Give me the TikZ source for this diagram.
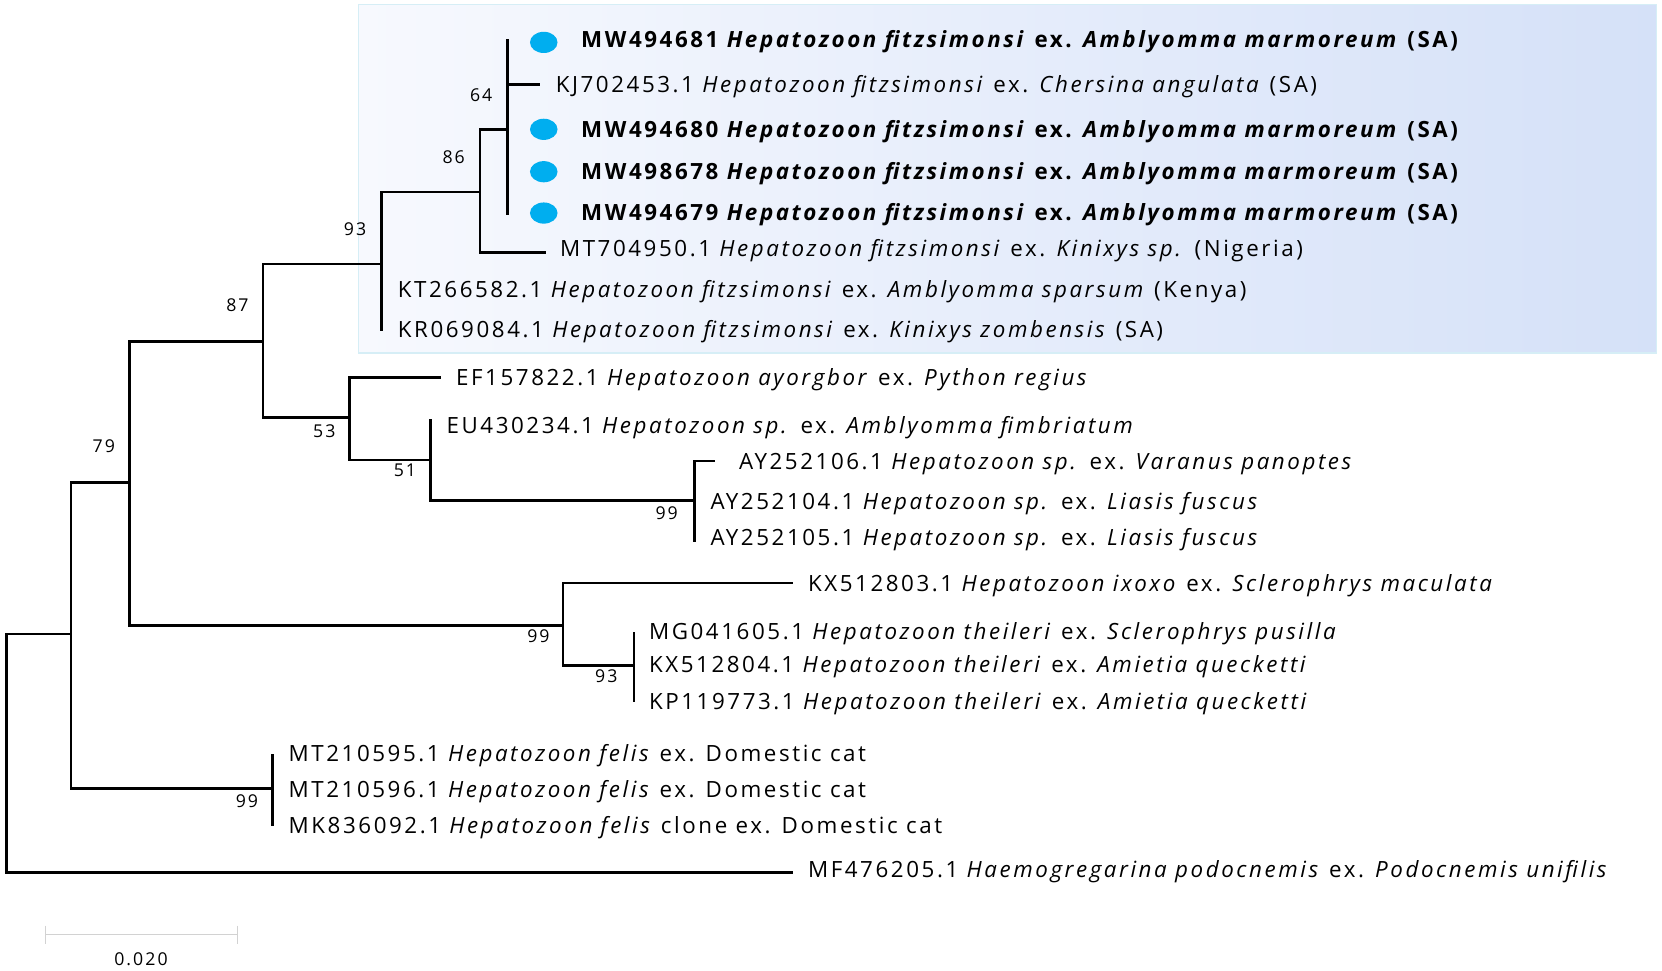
\documentclass[tikz,border=0pt]{standalone}
\usepackage{fontspec}
\setmainfont{Open Sans}[LetterSpace=11.5]
\usetikzlibrary{
    positioning,
    shapes.geometric
}
\definecolor{dotblue}{RGB}{0,174,239}
\definecolor{boxleft}{RGB}{247,249,254}
\definecolor{boxright}{RGB}{213,225,248}
\definecolor{boxedge}{RGB}{214,238,246}
\tikzset{
  br/.style    = {line width=1.4pt, black},
  leaf/.style  = {anchor=mid west, inner sep=0pt, yshift=-0.06cm,
                  font=\fontsize{12}{14}\selectfont},
  bs/.style    = {inner sep=0pt, font=\fontsize{9.5}{11}\selectfont},
  dot/.style   = {ellipse, fill=dotblue, inner sep=0pt,
                  minimum width=0.52cm, minimum height=0.40cm},
  sbar/.style  = {gray!35, line width=0.5pt}
}

\begin{document}
\begin{tikzpicture}[x=0.02cm, y=-0.02cm]
  \useasboundingbox (0,0) rectangle (1568,916);

  % highlighted clade
  \shade[left color=boxleft, right color=boxright] (338,4) rectangle (1563,333);
  \draw[boxedge, line width=0.6pt] (338,4) rectangle (1563,333);

  % internal nodes
  \coordinate (root) at (6,710);
  \coordinate (nA)   at (67,598);
  \coordinate (nB)   at (122,455);
  \coordinate (nC)   at (248,322);
  \coordinate (nF)   at (360,249);
  \coordinate (nJ)   at (453,181);
  \coordinate (nK)   at (479,122);
  \coordinate (nG)   at (330,394);
  \coordinate (nH)   at (406,434);
  \coordinate (nI)   at (655,472);
  \coordinate (nD)   at (531,590);
  \coordinate (nE)   at (598,628);
  \coordinate (nFel) at (257,744);

  % branch tips
  \coordinate (l1)  at (479,37);
  \coordinate (l2)  at (509,80);
  \coordinate (l3)  at (479,122);
  \coordinate (l4)  at (479,162);
  \coordinate (l5)  at (479,203);
  \coordinate (l6)  at (515,238);
  \coordinate (l7)  at (360,273);
  \coordinate (l8)  at (360,312);
  \coordinate (l9)  at (416,356);
  \coordinate (l10) at (406,395);
  \coordinate (l11) at (675,435);
  \coordinate (l12) at (655,472);
  \coordinate (l13) at (655,511);
  \coordinate (l14) at (748,550);
  \coordinate (l15) at (598,596);
  \coordinate (l16) at (598,628);
  \coordinate (l17) at (598,662);
  \coordinate (l18) at (257,711);
  \coordinate (l19) at (257,745);
  \coordinate (l20) at (257,779);
  \coordinate (l21) at (748,823);

  % branches
  \draw[br] (root) |- (nA);
  \draw[br] (root) |- (l21);
  \draw[br] (nA) |- (nB);
  \draw[br] (nA) |- (nFel);
  \draw[br] (nB) |- (nC);
  \draw[br] (nB) |- (nD);
  \draw[br] (nC) |- (nF);
  \draw[br] (nC) |- (nG);
  \draw[br] (nF) |- (nJ);
  \draw[br] (nF) |- (l7);
  \draw[br] (nF) |- (l8);
  \draw[br] (nJ) |- (nK);
  \draw[br] (nJ) |- (l6);
  \foreach \t in {l1,l2,l3,l4,l5}
    \draw[br] (nK) |- (\t);
  \draw[br] (nG) |- (l9);
  \draw[br] (nG) |- (nH);
  \draw[br] (nH) |- (l10);
  \draw[br] (nH) |- (nI);
  \foreach \t in {l11,l12,l13}
    \draw[br] (nI) |- (\t);
  \draw[br] (nD) |- (l14);
  \draw[br] (nD) |- (nE);
  \foreach \t in {l15,l16,l17}
    \draw[br] (nE) |- (\t);
  \foreach \t in {l18,l19,l20}
    \draw[br] (nFel) |- (\t);

  % bootstrap values
  \node[bs] (bK)   at (454,90)  {64};
  \node[bs] (bJ)   at (428,148) {86};
  \node[bs] (bF)   at (335,216) {93};
  \node[bs] (bC)   at (224,288) {87};
  \node[bs] (bB)   at (98,421)  {79};
  \node[bs] (bG)   at (306,407) {53};
  \node[bs] (bH)   at (382,444) {51};
  \node[bs] (bI)   at (629,484) {99};
  \node[bs] (bD)   at (508,600) {99};
  \node[bs] (bE)   at (572,638) {93};
  \node[bs] (bFel) at (233,756) {99};

  % new sequences
  \node[dot] (d1) at (513,40)  {};
  \node[dot] (d3) at (513,122) {};
  \node[dot] (d4) at (513,162) {};
  \node[dot] (d5) at (513,201) {};

  % taxa
  \node[leaf] (t1)  at (548,37)  {\textbf{MW494681 \textit{Hepatozoon fitzsimonsi} ex. \textit{Amblyomma marmoreum} (SA)}};
  \node[leaf] (t2)  at (524,80)  {KJ702453.1 \textit{Hepatozoon fitzsimonsi} ex. \textit{Chersina angulata} (SA)};
  \node[leaf] (t3)  at (548,122) {\textbf{MW494680 \textit{Hepatozoon fitzsimonsi} ex. \textit{Amblyomma marmoreum} (SA)}};
  \node[leaf] (t4)  at (548,162) {\textbf{MW498678 \textit{Hepatozoon fitzsimonsi} ex. \textit{Amblyomma marmoreum} (SA)}};
  \node[leaf] (t5)  at (548,200) {\textbf{MW494679 \textit{Hepatozoon fitzsimonsi} ex. \textit{Amblyomma marmoreum} (SA)}};
  \node[leaf] (t6)  at (528,234) {MT704950.1 \textit{Hepatozoon fitzsimonsi} ex. \textit{Kinixys sp.} (Nigeria)};
  \node[leaf] (t7)  at (375,273) {KT266582.1 \textit{Hepatozoon fitzsimonsi} ex. \textit{Amblyomma sparsum} (Kenya)};
  \node[leaf] (t8)  at (375,311) {KR069084.1 \textit{Hepatozoon fitzsimonsi} ex. \textit{Kinixys zombensis} (SA)};
  \node[leaf] (t9)  at (430,356) {EF157822.1 \textit{Hepatozoon ayorgbor} ex. \textit{Python regius}};
  \node[leaf] (t10) at (421,401) {EU430234.1 \textit{Hepatozoon sp.} ex. \textit{Amblyomma fimbriatum}};
  \node[leaf] (t11) at (697,435) {AY252106.1 \textit{Hepatozoon sp.} ex. \textit{Varanus panoptes}};
  \node[leaf] (t12) at (670,473) {AY252104.1 \textit{Hepatozoon sp.} ex. \textit{Liasis fuscus}};
  \node[leaf] (t13) at (670,507) {AY252105.1 \textit{Hepatozoon sp.} ex. \textit{Liasis fuscus}};
  \node[leaf] (t14) at (762,550) {KX512803.1 \textit{Hepatozoon ixoxo} ex. \textit{Sclerophrys maculata}};
  \node[leaf] (t15) at (612,596) {MG041605.1 \textit{Hepatozoon theileri} ex. \textit{Sclerophrys pusilla}};
  \node[leaf] (t16) at (612,627) {KX512804.1 \textit{Hepatozoon theileri} ex. \textit{Amietia quecketti}};
  \node[leaf] (t17) at (612,662) {KP119773.1 \textit{Hepatozoon theileri} ex. \textit{Amietia quecketti}};
  \node[leaf] (t18) at (272,711) {MT210595.1 \textit{Hepatozoon felis} ex. Domestic cat};
  \node[leaf] (t19) at (272,745) {MT210596.1 \textit{Hepatozoon felis} ex. Domestic cat};
  \node[leaf] (t20) at (272,779) {MK836092.1 \textit{Hepatozoon felis} clone ex. Domestic cat};
  \node[leaf] (t21) at (762,820) {MF476205.1 \textit{Haemogregarina podocnemis} ex. \textit{Podocnemis unifilis}};

  % scale bar
  \coordinate (sb1) at (43,882);
  \coordinate (sb2) at (224,882);
  \draw[sbar] (sb1) -- (sb2);
  \draw[sbar] ([yshift=5]sb1) -- ([yshift=-5]sb1);
  \draw[sbar] ([yshift=5]sb2) -- ([yshift=-5]sb2);
  \node[bs] (sbl) at (133,905) {0.020};
\end{tikzpicture}
\end{document}
